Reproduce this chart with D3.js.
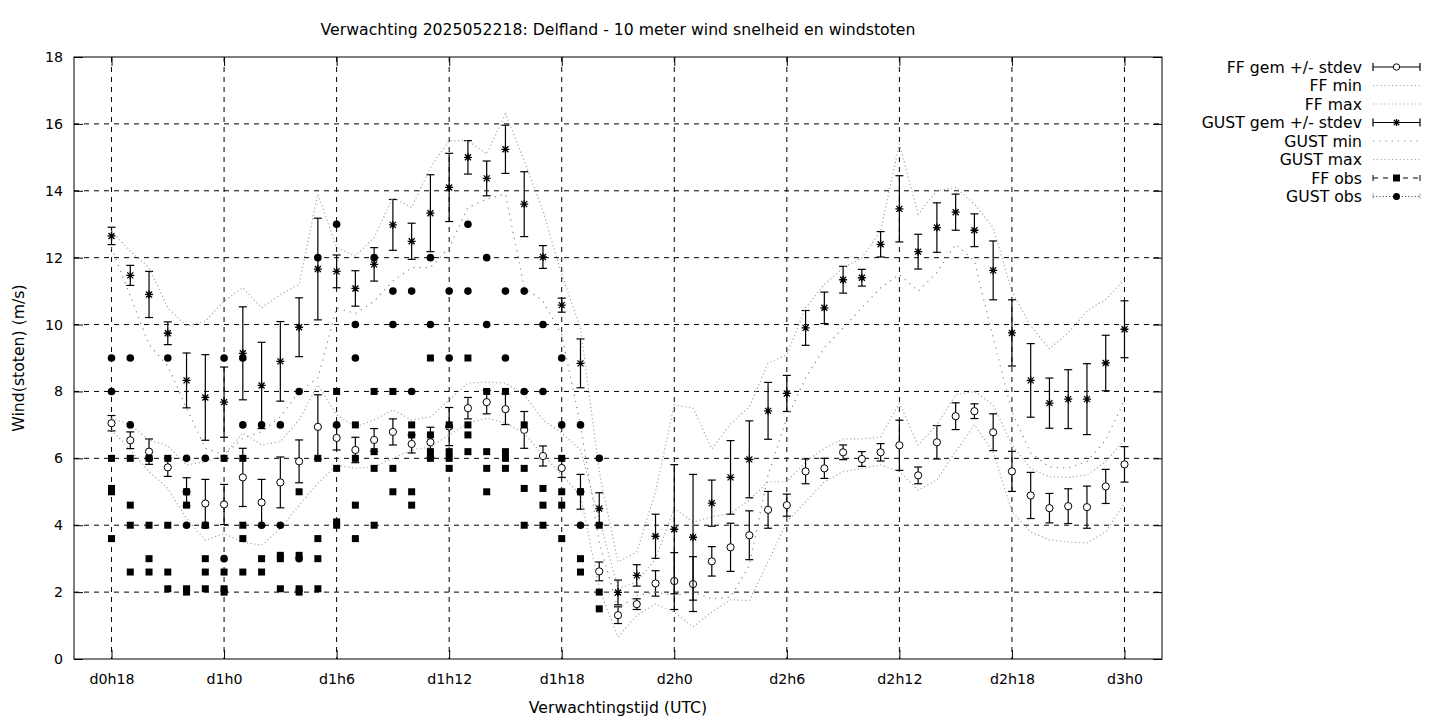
<!DOCTYPE html>
<html><head><meta charset="utf-8">
<script src="https://cdn.jsdelivr.net/npm/d3@7"></script>
<style>body{margin:0;background:#fff}svg{display:block}text{font-family:"DejaVu Sans",sans-serif;fill:#000}</style>
</head><body><svg id="c" width="1440" height="720"></svg>
<script>
// ---------- data ----------
const hours = [18,19,20,21,22,23,24,25,26,27,28,29,30,31,32,33,34,35,36,37,38,39,40,41,42,43,44,45,
  46,47,48,49,50,51,52,53,54,55,56,57,58,59,60,61,62,63,64,65,66,67,68,69,70,71,72];
const ffMean = [7.05,6.54,6.2,5.73,5.0,4.65,4.62,5.43,4.68,5.28,5.91,6.94,6.61,6.25,6.55,6.79,6.43,6.48,6.95,7.5,
  7.68,7.47,6.85,6.07,5.71,5.0,2.62,1.31,1.64,2.26,2.33,2.24,2.92,3.34,3.7,4.46,4.6,5.61,5.7,6.18,
  5.98,6.18,6.39,5.49,6.48,7.26,7.41,6.78,5.61,4.89,4.51,4.57,4.54,5.16,5.82];
const ffSd = [0.23,0.25,0.38,0.27,0.42,0.72,0.6,0.87,0.69,0.76,0.64,0.96,0.36,0.38,0.34,0.39,0.27,0.45,0.57,0.32,
  0.35,0.46,0.55,0.3,0.28,0.52,0.28,0.25,0.16,0.38,0.85,0.82,0.44,0.72,0.73,0.55,0.33,0.37,0.3,0.22,
  0.22,0.26,0.75,0.25,0.5,0.4,0.22,0.55,0.6,0.69,0.44,0.52,0.63,0.51,0.53];
const ffMin = [6.85,6.25,5.6,5.1,4.2,3.55,3.75,3.5,3.4,3.9,4.6,5.25,5.8,5.7,5.75,6.0,6.25,6.34,6.7,7.05,
  7.2,7.06,6.75,6.1,5.5,4.9,2.1,0.66,1.3,1.65,1.4,0.96,1.4,1.77,1.75,2.9,4.1,4.7,5.3,5.6,
  5.7,5.8,5.6,5.05,5.35,6.2,7.0,6.2,4.4,3.8,3.56,3.5,3.47,3.8,4.66];
const ffMax = [7.2,7.0,6.55,6.37,5.8,5.9,6.1,6.76,6.4,6.5,7.15,8.2,7.3,6.94,7.15,7.45,7.15,7.24,7.74,8.25,
  8.28,8.25,7.9,7.15,6.76,6.25,4.2,2.1,2.3,3.0,4.5,4.1,4.25,4.35,4.75,5.3,5.3,5.9,6.3,6.58,
  6.58,6.64,7.65,6.4,7.0,7.9,8.0,7.6,6.4,5.7,5.45,5.43,5.5,5.9,6.55];
const gustMean = [12.65,11.47,10.9,9.74,8.33,7.82,7.68,9.14,8.18,8.9,9.92,11.66,11.59,11.08,11.8,12.98,12.49,13.33,14.1,15.0,
  14.37,15.24,13.6,12.02,10.58,8.84,4.5,1.99,2.5,3.67,3.88,3.64,4.66,5.43,5.97,7.42,7.94,9.9,10.5,11.34,
  11.4,12.4,13.46,12.18,12.9,13.36,12.82,11.62,9.75,8.33,7.65,7.77,7.77,8.85,9.86];
const gustSd = [0.26,0.3,0.69,0.34,0.82,1.28,1.05,1.39,1.29,1.19,0.88,1.52,0.49,0.53,0.5,0.76,0.54,1.15,1.02,0.5,
  0.52,0.72,0.97,0.34,0.21,0.73,0.47,0.37,0.32,0.66,1.93,1.88,0.69,1.1,1.15,0.85,0.54,0.52,0.47,0.4,
  0.25,0.38,0.99,0.52,0.74,0.54,0.49,0.88,0.99,1.1,0.75,0.88,1.06,0.83,0.85];
const gustMin = [12.3,10.85,9.4,8.76,7.5,6.3,6.1,6.6,6.8,7.24,8.0,8.4,10.5,10.33,10.7,11.3,11.7,11.7,12.3,13.5,
  13.75,13.9,11.1,10.7,9.7,7.0,3.5,1.5,1.9,2.0,1.9,2.0,1.8,1.85,2.8,5.5,7.2,8.4,9.3,9.9,
  10.5,11.1,11.5,11.0,11.55,12.4,11.9,9.6,7.4,6.16,5.74,5.71,5.9,6.55,7.74];
const gustMax = [12.8,12.2,11.7,10.5,9.96,10.1,10.7,11.1,10.5,10.9,11.2,13.9,12.3,12.05,12.6,13.8,13.5,14.7,15.5,15.5,
  15.1,16.3,14.9,13.4,11.5,9.9,5.6,2.9,3.2,5.0,7.6,7.5,6.28,7.03,7.54,8.85,9.1,10.5,11.2,11.7,
  12.0,12.8,15.4,13.3,14.0,14.1,13.6,12.9,11.0,9.95,9.28,9.75,10.4,10.75,11.35];
// observations (several stations per hour)
const obsHours = [18,19,20,21,22,23,24,25,26,27,28,29,30,31,32,33,34,35,36,37,38,39,40,41,42,43,44];
const ffObs = [[6.0,5.1,5.0,3.6],[6.0,4.6,4.0,2.6],[6.0,4.0,3.0,2.6],[6.0,4.0,2.6,2.1],[5.0,4.6,2.1,2.0],
  [4.0,3.0,2.6,2.1],[6.0,2.6,2.1,2.0],[6.0,4.0,3.6,2.6],[3.0,2.6],[3.1,3.0,2.1],[5.0,3.1,2.1,2.0],
  [6.0,3.6,3.0,2.1],[8.0,5.7,4.1,4.0],[7.0,6.0,4.6,3.6],[8.0,6.2,5.7,4.0],[8.0,5.7,5.0],[7.0,6.7,5.0,4.6],
  [9.0,6.7,6.2,6.0],[7.0,6.2,6.0,5.7],[9.0,7.0,6.7,6.2],[8.0,6.2,5.7,5.0],[8.0,6.2,6.0,5.7],[7.0,5.7,5.1,4.0],
  [5.1,4.6,4.0],[6.0,5.0,4.6,3.6],[5.0,3.0,2.6],[4.0,2.0,1.5]];
const gustObs = [[9,8],[9,7],[6],[9],[6,4],[6,4],[9,3],[9,7],[7,4],[7,4],[8,3],[12],[13,7],[10,9],[12],
  [11,10],[11,8],[12,10],[11,9],[13,11],[12,10],[11,9],[11,8],[10,8],[9,7],[7,4],[6]];
const xTickHours = [18,24,30,36,42,48,54,60,66,72];
const xTickLabels = ["d0h18","d1h0","d1h6","d1h12","d1h18","d2h0","d2h6","d2h12","d2h18","d3h0"];
const yTicks = [0,2,4,6,8,10,12,14,16,18];
const titleText = "Verwachting 2025052218: Delfland - 10 meter wind snelheid en windstoten";
const legendLabels = ["FF gem +/- stdev","FF min","FF max","GUST gem +/- stdev","GUST min","GUST max","FF obs","GUST obs"];

// ---------- layout ----------
const FS = 15.7, TFS = 14.2;
const L = 74, R = 1162, T = 57, B = 659;
const svg = d3.select("#c");
const x = d3.scaleLinear().domain([16, 74]).range([L, R]);
const y = d3.scaleLinear().domain([0, 18]).range([B, T]);

// grid
const g = svg.append("g");
g.selectAll(".gx").data(xTickHours).join("line")
  .attr("x1", d => x(d)).attr("x2", d => x(d)).attr("y1", T).attr("y2", B)
  .attr("stroke", "#000").attr("stroke-width", 1).attr("stroke-dasharray", "5,5");
g.selectAll(".gy").data(yTicks.slice(1, -1)).join("line")
  .attr("x1", L).attr("x2", R).attr("y1", d => y(d)).attr("y2", d => y(d))
  .attr("stroke", "#000").attr("stroke-width", 1).attr("stroke-dasharray", "5,5");

// axes
const ax = svg.append("g").attr("transform", `translate(0,${B})`)
  .call(d3.axisBottom(x).tickValues(xTickHours).tickFormat((d, i) => xTickLabels[i]).tickSize(-9).tickPadding(15));
const ay = svg.append("g").attr("transform", `translate(${L},0)`)
  .call(d3.axisLeft(y).tickValues(yTicks).tickSize(-9).tickPadding(11));
const axT = svg.append("g").attr("transform", `translate(0,${T})`)
  .call(d3.axisTop(x).tickValues(xTickHours).tickFormat("").tickSize(-9));
const ayR = svg.append("g").attr("transform", `translate(${R},0)`)
  .call(d3.axisRight(y).tickValues(yTicks).tickFormat("").tickSize(-9));
[ax, ay, axT, ayR].forEach(a => {
  a.select(".domain").remove();
  a.selectAll("line").attr("stroke", "#000");
  a.selectAll("text").attr("font-size", TFS).attr("font-family", "DejaVu Sans").attr("fill", "#000");
});
svg.append("rect").attr("x", L).attr("y", T).attr("width", R - L).attr("height", B - T)
  .attr("fill", "none").attr("stroke", "#000").attr("stroke-width", 1);

// titles
svg.append("text").attr("x", 618).attr("y", 35).attr("text-anchor", "middle").attr("font-size", FS).text(titleText);
svg.append("text").attr("x", 618).attr("y", 713).attr("text-anchor", "middle").attr("font-size", FS).text("Verwachtingstijd (UTC)");
svg.append("text").attr("transform", "translate(24,358) rotate(-90)").attr("text-anchor", "middle").attr("font-size", FS).text("Wind(stoten) (m/s)");

const plot = svg.append("g");
const cap = 4;
function errorBars(means, sds) {
  const gg = plot.append("g").attr("stroke", "#000").attr("stroke-width", 1.2);
  hours.forEach((h, i) => {
    const cx = x(h), y1 = y(means[i] + sds[i]), y2 = y(means[i] - sds[i]);
    gg.append("line").attr("x1", cx).attr("x2", cx).attr("y1", y1).attr("y2", y2);
    gg.append("line").attr("x1", cx - cap).attr("x2", cx + cap).attr("y1", y1).attr("y2", y1);
    gg.append("line").attr("x1", cx - cap).attr("x2", cx + cap).attr("y1", y2).attr("y2", y2);
  });
}
const lineGen = arr => d3.line().x((d, i) => x(hours[i])).y(d => y(d))(arr);
function dotted(arr, dash, col) {
  plot.append("path").attr("d", lineGen(arr)).attr("fill", "none")
    .attr("stroke", col).attr("stroke-width", 1.2).attr("stroke-dasharray", dash);
}
function asterisk(sel, cx, cy, s) {
  const p = `M${cx - s},${cy}L${cx + s},${cy}M${cx},${cy - s}L${cx},${cy + s}` +
    `M${cx - s * 0.75},${cy - s * 0.75}L${cx + s * 0.75},${cy + s * 0.75}M${cx - s * 0.75},${cy + s * 0.75}L${cx + s * 0.75},${cy - s * 0.75}`;
  sel.append("path").attr("d", p).attr("stroke", "#000").attr("stroke-width", 1.3).attr("fill", "none");
}

// FF mean +/- stdev
errorBars(ffMean, ffSd);
plot.append("g").selectAll("circle").data(ffMean).join("circle")
  .attr("cx", (d, i) => x(hours[i])).attr("cy", d => y(d)).attr("r", 3.6)
  .attr("fill", "#fff").attr("stroke", "#000").attr("stroke-width", 1);
dotted(ffMin, "1.2,2.6", "#a8a8a8");
dotted(ffMax, "1.2,2.6", "#a8a8a8");
// GUST mean +/- stdev
errorBars(gustMean, gustSd);
const ag = plot.append("g");
gustMean.forEach((d, i) => asterisk(ag, x(hours[i]), y(d), 4));
dotted(gustMin, "1.2,5", "#888");
dotted(gustMax, "1.2,2.6", "#a8a8a8");

// observations
const obsG = plot.append("g");
obsHours.forEach((h, i) => {
  ffObs[i].forEach(v => obsG.append("rect").attr("x", x(h) - 3.5).attr("y", y(v) - 3.5)
    .attr("width", 7).attr("height", 7).attr("fill", "#000"));
});
obsHours.forEach((h, i) => {
  gustObs[i].forEach(v => obsG.append("circle").attr("cx", x(h)).attr("cy", y(v)).attr("r", 3.8).attr("fill", "#000"));
});

// legend
const lg = svg.append("g");
const lx0 = 1373, lx1 = 1420, lxm = 1396.5;
legendLabels.forEach((lab, i) => {
  const ly = 67 + i * 18.5;
  lg.append("text").attr("x", 1362).attr("y", ly + 5.5).attr("text-anchor", "end").attr("font-size", FS).text(lab);
  if (i === 0 || i === 3) {
    lg.append("line").attr("x1", lx0).attr("x2", lx1).attr("y1", ly).attr("y2", ly).attr("stroke", "#000").attr("stroke-width", 1.2);
    [lx0, lx1].forEach(xx => lg.append("line").attr("x1", xx).attr("x2", xx).attr("y1", ly - 4).attr("y2", ly + 4).attr("stroke", "#000").attr("stroke-width", 1.2));
    if (i === 0) lg.append("circle").attr("cx", lxm).attr("cy", ly).attr("r", 3.2).attr("fill", "#fff").attr("stroke", "#000");
    else asterisk(lg, lxm, ly, 3.5);
  } else if (i === 6) {
    lg.append("line").attr("x1", lx0).attr("x2", lx1).attr("y1", ly).attr("y2", ly).attr("stroke", "#000").attr("stroke-dasharray", "5,5");
    [lx0, lx1].forEach(xx => lg.append("line").attr("x1", xx).attr("x2", xx).attr("y1", ly - 3).attr("y2", ly + 3).attr("stroke", "#000"));
    lg.append("rect").attr("x", lxm - 3.5).attr("y", ly - 3.5).attr("width", 7).attr("height", 7).attr("fill", "#000");
  } else if (i === 7) {
    lg.append("line").attr("x1", lx0).attr("x2", lx1).attr("y1", ly).attr("y2", ly).attr("stroke", "#555").attr("stroke-dasharray", "1.2,2");
    [lx0, lx1].forEach(xx => lg.append("line").attr("x1", xx).attr("x2", xx).attr("y1", ly - 3).attr("y2", ly + 3).attr("stroke", "#555").attr("stroke-dasharray", "1,1"));
    lg.append("circle").attr("cx", lxm).attr("cy", ly).attr("r", 3.5).attr("fill", "#000");
  } else {
    const dash = i === 4 ? "1.2,5" : "1.2,2.6";
    const col = i === 4 ? "#888" : "#a8a8a8";
    lg.append("line").attr("x1", lx0).attr("x2", lx1).attr("y1", ly).attr("y2", ly).attr("stroke", col).attr("stroke-width", 1.2).attr("stroke-dasharray", dash);
  }
});
</script></body></html>
